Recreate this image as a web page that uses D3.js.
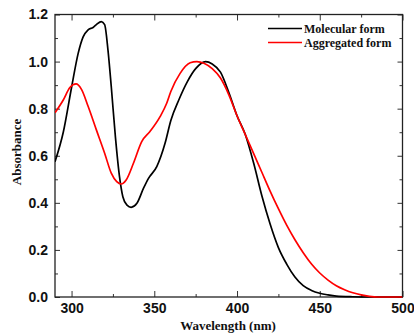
<!DOCTYPE html>
<html>
<head>
<meta charset="utf-8">
<script src="https://cdn.jsdelivr.net/npm/d3@7"></script>
<style>
  html, body { margin: 0; padding: 0; background: #fff; }
  svg { display: block; }
  .tick text { font-family: "Liberation Sans", Arial, sans-serif; font-weight: bold; font-size: 14px; fill: #111; }
  .title { font-family: "Liberation Serif", "Times New Roman", serif; font-weight: bold; fill: #111; }
</style>
</head>
<body>
<div id="chart"></div>
<script>
// Molecular form (black)
const molWl = [290, 295, 300, 304, 307, 310, 313, 315, 318, 320, 322, 324, 326.5, 329, 331, 333.5, 336, 339.5, 343.5, 346.5, 351.5, 356.5, 360, 365, 370, 375, 381, 385, 390, 395, 400, 405, 410, 415, 420, 425, 430, 435, 440, 445, 450, 455, 460, 470, 480, 500];
const molAbs = [0.575, 0.70, 0.89, 1.035, 1.105, 1.135, 1.145, 1.157, 1.17, 1.157, 1.05, 0.894, 0.68, 0.51, 0.426, 0.39, 0.381, 0.398, 0.462, 0.504, 0.554, 0.653, 0.75, 0.84, 0.915, 0.97, 1.0, 0.99, 0.955, 0.87, 0.77, 0.69, 0.57, 0.43, 0.31, 0.21, 0.14, 0.085, 0.048, 0.028, 0.016, 0.009, 0.004, 0.001, 0, 0];

// Aggregated form (red)
const aggWl = [290, 295, 299, 302.7, 306, 310, 315, 320, 324, 327.3, 330, 333, 337.4, 342.4, 347.4, 353.5, 357.5, 360, 365.6, 371.7, 375.7, 380, 385, 390, 395, 400, 405, 410, 415, 420, 425, 430, 435, 440, 445, 450, 455, 460, 465, 470, 475, 480, 485, 500];
const aggAbs = [0.783, 0.837, 0.89, 0.905, 0.882, 0.81, 0.71, 0.611, 0.526, 0.49, 0.48, 0.497, 0.568, 0.66, 0.703, 0.766, 0.823, 0.873, 0.95, 0.995, 1.0, 0.993, 0.97, 0.93, 0.86, 0.77, 0.69, 0.61, 0.53, 0.45, 0.375, 0.305, 0.243, 0.188, 0.14, 0.102, 0.072, 0.048, 0.031, 0.018, 0.009, 0.003, 0, 0];

const xMajor = [300, 350, 400, 450, 500];
const xMinor = [325, 375, 425, 475];
const yMajor = [0, 0.2, 0.4, 0.6, 0.8, 1.0, 1.2];
const yMinor = [0.1, 0.3, 0.5, 0.7, 0.9, 1.1];

const seriesNames = ["Molecular form", "Aggregated form"];
const seriesColors = ["#000000", "#ff0000"];

const width = 414, height = 334;
const margin = {top: 14.5, right: 11.5, bottom: 37, left: 55};
const innerW = width - margin.left - margin.right;
const innerH = height - margin.top - margin.bottom;

const svg = d3.select("#chart").append("svg")
    .attr("width", width)
    .attr("height", height);

const g = svg.append("g")
    .attr("transform", `translate(${margin.left},${margin.top})`);

const x = d3.scaleLinear().domain([290, 500]).range([0, innerW]);
const y = d3.scaleLinear().domain([0, 1.2]).range([innerH, 0]);

// bottom axis
g.append("g")
    .attr("transform", `translate(0,${innerH})`)
    .call(d3.axisBottom(x).tickValues(xMajor).tickSize(-6).tickPadding(6).tickFormat(d3.format("d")));
g.append("g")
    .attr("transform", `translate(0,${innerH})`)
    .call(d3.axisBottom(x).tickValues(xMinor).tickSize(-3).tickFormat(""));
// top axis
g.append("g")
    .call(d3.axisTop(x).tickValues(xMajor).tickSize(-6).tickFormat(""));
g.append("g")
    .call(d3.axisTop(x).tickValues(xMinor).tickSize(-3).tickFormat(""));
// left axis
g.append("g")
    .call(d3.axisLeft(y).tickValues(yMajor).tickSize(-5).tickPadding(7).tickFormat(d3.format(".1f")));
g.append("g")
    .call(d3.axisLeft(y).tickValues(yMinor).tickSize(-3).tickFormat(""));
// right axis
g.append("g")
    .attr("transform", `translate(${innerW},0)`)
    .call(d3.axisRight(y).tickValues(yMajor).tickSize(-5).tickFormat(""));
g.append("g")
    .attr("transform", `translate(${innerW},0)`)
    .call(d3.axisRight(y).tickValues(yMinor).tickSize(-3).tickFormat(""));

g.selectAll(".domain").remove();
g.selectAll(".tick line").attr("stroke", "#333").attr("stroke-width", 1);

// frame
g.append("rect")
    .attr("width", innerW)
    .attr("height", innerH)
    .attr("fill", "none")
    .attr("stroke", "#222")
    .attr("stroke-width", 1.3);

// curves
const line = d3.line()
    .x(d => x(d[0]))
    .y(d => y(d[1]))
    .curve(d3.curveMonotoneX);

const series = [d3.zip(molWl, molAbs), d3.zip(aggWl, aggAbs)];

g.append("defs").append("clipPath").attr("id", "clip")
    .append("rect").attr("width", innerW).attr("height", innerH + 1);

series.forEach((s, i) => {
    g.append("path")
        .attr("clip-path", "url(#clip)")
        .attr("fill", "none")
        .attr("stroke", seriesColors[i])
        .attr("stroke-width", 1.7)
        .attr("d", line(s));
});

// legend
const legend = g.append("g")
    .attr("transform", `translate(${268 - margin.left},${28.5 - margin.top})`);
seriesNames.forEach((name, i) => {
    legend.append("line")
        .attr("x1", 0).attr("x2", 34)
        .attr("y1", i * 14).attr("y2", i * 14)
        .attr("stroke", seriesColors[i])
        .attr("stroke-width", 1.5);
    legend.append("text")
        .attr("class", "title")
        .attr("x", 36)
        .attr("y", i * 14)
        .attr("dy", "0.35em")
        .style("font-size", "12px")
        .text(name);
});

// axis titles
svg.append("text")
    .attr("class", "title")
    .attr("x", 228)
    .attr("y", 330)
    .attr("text-anchor", "middle")
    .style("font-size", "13px")
    .text("Wavelength (nm)");

svg.append("text")
    .attr("class", "title")
    .attr("transform", "translate(21,152) rotate(-90)")
    .attr("text-anchor", "middle")
    .style("font-size", "13px")
    .text("Absorbance");
</script>
</body>
</html>
